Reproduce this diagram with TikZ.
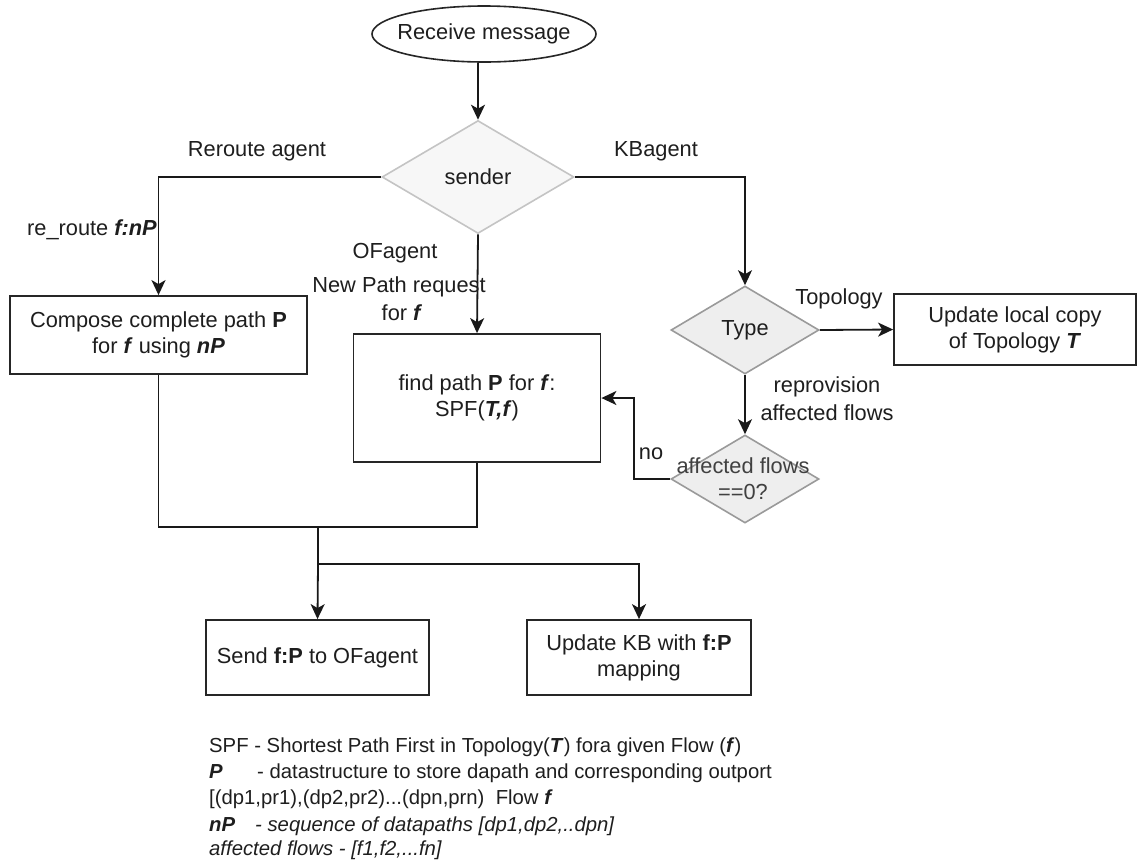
\documentclass[tikz,border=0pt]{standalone}
\usepackage{fontspec}
\setmainfont{Liberation Sans}
\usetikzlibrary{shapes.geometric,arrows.meta}
\definecolor{ink}{HTML}{1E1E1E}
\definecolor{lightstroke}{HTML}{C4C4C4}
\definecolor{lightfill}{HTML}{F7F7F7}
\definecolor{midstroke}{HTML}{9A9A9A}
\definecolor{midfill}{HTML}{EEEEEE}
\newcommand{\bi}[1]{\textbf{\textit{#1}}}
\begin{document}
\begin{tikzpicture}[x=1pt,y=-1pt,
  every node/.style={font=\fontsize{21.8}{26}\selectfont, text=ink},
  box/.style={draw=black!85, line width=1.8pt, fill=white, inner sep=0pt, align=center},
  dmd/.style={diamond, line width=1.6pt, inner sep=0pt},
  arr/.style={-{Stealth[length=15pt,width=14pt,inset=4pt]}},
  line/.style={draw=black!90, line width=1.8pt},
  lbl/.style={inner sep=0pt, align=center},
  leg/.style={font=\fontsize{20.3}{24}\selectfont, anchor=west, inner sep=0pt, text height=14pt, text depth=4pt}]
\useasboundingbox (0,0) rectangle (1137,863);

% start and decision nodes
\node[ellipse, draw=black!85, line width=1.6pt, fill=white, minimum width=224pt, minimum height=56pt, inner sep=0pt] (recv) at (484,34) {};
\node[lbl] at (recv.center) {Receive message};
\node[dmd, draw=lightstroke, fill=lightfill, minimum width=192pt, minimum height=113pt] (sender) at (478,177) {};
\node[lbl] at (sender.center) {sender};
\node[dmd, draw=midstroke, fill=midfill, minimum width=148pt, minimum height=88pt] (type) at (745,330) {};
\node[lbl] at (type.center) {Type};
\node[dmd, draw=midstroke, fill=midfill, minimum width=148pt, minimum height=88pt] (aff) at (745,479) {};
\node[lbl, text=ink!85] at (743,479) {affected flows\\==0?};

% process boxes
\node[box, minimum width=297pt, minimum height=78pt] (compose) at (158.5,335) {Compose complete path \textbf{P}\\for \bi{f} using \bi{nP}};
\node[box, minimum width=247pt, minimum height=128pt] (find) at (477,398) {find path \textbf{P} for \bi{f}:\\SPF(\bi{T,f})};
\node[box, minimum width=242pt, minimum height=71pt] (upd) at (1015,329.5) {Update local copy\\of Topology \bi{T}};
\node[box, minimum width=223pt, minimum height=75pt] (send) at (317.5,657.5) {Send \textbf{f:P} to OFagent};
\node[box, minimum width=224pt, minimum height=75pt] (kb) at (639,657.5) {Update KB with \textbf{f:P}\\mapping};

% connectors
\draw[line, arr] (recv.south -| sender.north) -- (sender.north);
\draw[line, arr] (sender.west) -| (compose.north);
\draw[line, arr] (sender.south) -- (find.north);
\draw[line, arr] (sender.east) -| (type.north);
\draw[line, arr] (type.east) -- (upd.west);
\draw[line, arr] (type.south) -- (aff.north);
\draw[line, arr] (aff.west) -- ++(-36,0) |- (find.east);
\coordinate (merge) at (318,527);
\coordinate (split) at (318,564);
\draw[line] (compose.south) -- (compose.south |- merge) -- (find.south |- merge) -- (find.south);
\draw[line] (merge) -- (split);
\draw[line, arr] (split) -- (send.north);
\draw[line, arr] (split) -| (kb.north);

% edge labels
\node[lbl] at (257,151) {Reroute agent};
\node[lbl] at (656,151) {KBagent};
\node[lbl, anchor=east] at (157,230) {re\_route \bi{f:nP}};
\node[lbl] at (395,253) {OFagent};
\node[lbl] at (399,287) {New Path request};
\node[lbl] at (402,313) {for \bi{f}};
\node[lbl] at (839,299) {Topology};
\node[lbl] at (827,387) {reprovision};
\node[lbl] at (827,413) {affected flows};
\node[lbl] at (651,454) {no};

% legend
\node[leg] (l1) at (209,747) {SPF - Shortest Path First in Topology(\bi{T}) fora given Flow (\bi{f})};
\node[leg] (l2) at (209,773) {\makebox[48pt][l]{\bi{P}}- datastructure to store dapath and corresponding outport};
\node[leg] (l3) at (209,799) {[(dp1,pr1),(dp2,pr2)...(dpn,prn)\ \ Flow \bi{f}};
\node[leg] (l4) at (209,826) {\makebox[46pt][l]{\bi{nP}}\textit{- sequence of datapaths [dp1,dp2,..dpn]}};
\node[leg] (l5) at (209,850) {\textit{affected flows - [f1,f2,...fn]}};
\end{tikzpicture}
\end{document}
